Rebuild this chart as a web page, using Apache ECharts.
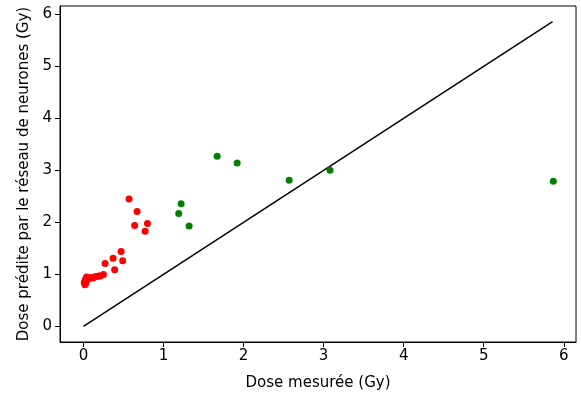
<!DOCTYPE html>
<html>
<head>
<meta charset="utf-8">
<script src="https://cdn.jsdelivr.net/npm/echarts@6/dist/echarts.min.js"></script>
<style>
  html, body { margin: 0; padding: 0; background: #fff; }
  #chart { width: 581px; height: 405px; }
</style>
</head>
<body>
<div id="chart"></div>
<script>
var chart = echarts.init(document.getElementById('chart'));

// points "faibles doses" (rouge)
var redPoints = [
    [0.02, 0.80], [0.01, 0.84], [0.03, 0.83], [0.02, 0.88], [0.03, 0.92],
    [0.05, 0.90], [0.04, 0.95], [0.06, 0.93], [0.08, 0.92], [0.10, 0.94],
    [0.12, 0.93], [0.14, 0.95], [0.16, 0.96], [0.19, 0.97], [0.21, 0.97],
    [0.25, 1.00], [0.27, 1.21], [0.37, 1.31], [0.39, 1.09], [0.47, 1.44],
    [0.49, 1.26], [0.57, 2.45], [0.67, 2.21], [0.64, 1.94], [0.80, 1.98],
    [0.77, 1.83]
];

// points "fortes doses" (vert)
var greenPoints = [
    [1.67, 3.27], [1.92, 3.14], [1.22, 2.36], [1.19, 2.17], [1.32, 1.93],
    [2.57, 2.81], [3.08, 3.00], [5.87, 2.79]
];

var identityLine = [[0, 0], [5.86, 5.86]];
var ticks = [0, 1, 2, 3, 4, 5, 6];

var font = 'DejaVu Sans';

var option = {
    animation: false,
    backgroundColor: '#fff',
    grid: {
        left: 60, top: 6, right: 5, bottom: 63,
        show: true,
        borderColor: '#000',
        borderWidth: 1
    },
    xAxis: {
        type: 'value',
        min: -0.293,
        max: 6.153,
        name: 'Dose mesurée (Gy)',
        nameLocation: 'middle',
        nameGap: 34,
        nameTextStyle: {fontFamily: font, fontSize: 15, color: '#000'},
        splitLine: {show: false},
        axisLine: {show: true, onZero: false, lineStyle: {color: '#000', width: 1}},
        axisTick: {show: true, length: 5, lineStyle: {color: '#000'}, customValues: ticks},
        axisLabel: {
            fontFamily: font, fontSize: 15, color: '#000', margin: 7,
            customValues: ticks
        }
    },
    yAxis: {
        type: 'value',
        min: -0.30,
        max: 6.16,
        name: 'Dose prédite par le réseau de neurones (Gy)',
        nameLocation: 'middle',
        nameGap: 26,
        nameTextStyle: {fontFamily: font, fontSize: 15, color: '#000'},
        splitLine: {show: false},
        axisLine: {show: true, onZero: false, lineStyle: {color: '#000', width: 1}},
        axisTick: {show: true, length: 5, lineStyle: {color: '#000'}, customValues: ticks},
        axisLabel: {
            fontFamily: font, fontSize: 15, color: '#000', margin: 8,
            customValues: ticks
        }
    },
    series: [
        {
            type: 'line',
            data: identityLine,
            symbol: 'none',
            lineStyle: {color: '#000', width: 1.5},
            z: 1
        },
        {
            type: 'scatter',
            data: redPoints,
            symbolSize: 7,
            itemStyle: {color: '#ff0000', opacity: 1},
            z: 2
        },
        {
            type: 'scatter',
            data: greenPoints,
            symbolSize: 7,
            itemStyle: {color: '#008000', opacity: 1},
            z: 2
        }
    ]
};

chart.setOption(option);
</script>
</body>
</html>
